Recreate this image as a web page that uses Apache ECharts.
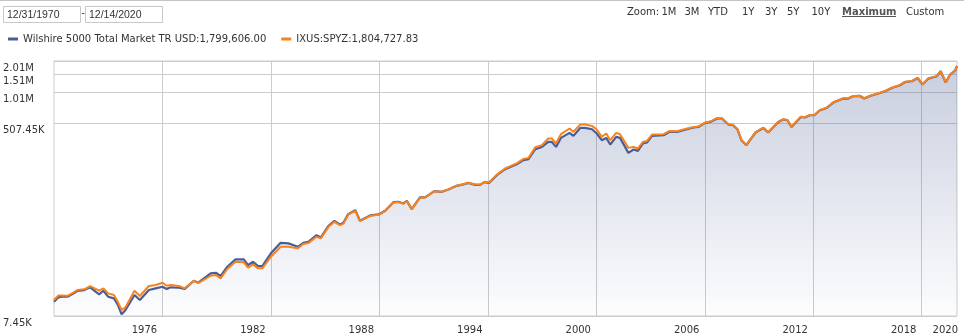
<!DOCTYPE html>
<html><head><meta charset="utf-8">
<script src="https://cdn.jsdelivr.net/npm/echarts@6/dist/echarts.min.js"></script>
<style>html,body{margin:0;padding:0;background:#fff;}#c{width:964px;height:333px;}</style>
</head><body><div id="c"></div>
<script>
const dates = ['1970-12-31','1971-03-31','1971-05-31','1971-09-30','1972-02-01','1972-04-15','1972-09-01','1972-12-31','1973-06-30','1973-09-25',
'1973-12-28','1974-04-25','1974-07-15','1974-09-27','1974-12-15','1975-06-15','1975-10-01','1976-03-31','1976-08-15','1976-12-31',
'1977-03-25','1977-06-15','1977-11-30','1978-03-25','1978-09-25','1978-12-25','1979-09-01','1979-12-15','1980-03-20','1980-08-01',
'1981-01-15','1981-07-01','1981-09-25','1982-01-05','1982-04-15','1982-07-10','1982-12-31','1983-07-15','1983-12-20','1984-06-25',
'1984-10-15','1985-01-25','1985-07-10','1985-10-05','1986-03-05','1986-07-05','1986-10-25','1987-01-05','1987-04-10','1987-09-01',
'1987-12-05','1988-06-28','1988-12-15','1989-04-25','1989-10-10','1990-01-15','1990-05-01','1990-07-10','1990-10-15','1991-03-31',
'1991-07-10','1992-01-15','1992-06-15','1992-10-25','1993-04-10','1993-08-25','1993-12-01','1994-04-20','1994-07-25','1994-10-25',
'1995-01-25','1995-07-01','1995-12-15','1996-01-20','1996-08-05','1996-12-20','1997-04-01','1997-08-15','1997-12-28','1998-05-05',
'1998-07-15','1998-10-10','1999-01-15','1999-07-10','1999-09-25','2000-02-10','2000-05-20','2000-10-05','2001-01-10','2001-04-20',
'2001-07-20','2001-10-08','2002-02-05','2002-04-25','2002-10-10','2003-01-22','2003-04-20','2003-07-30','2003-10-20','2004-01-30',
'2004-09-20','2005-01-20','2005-06-18','2006-01-05','2006-05-20','2006-08-25','2007-01-08','2007-04-20','2007-09-12','2007-12-12',
'2008-04-22','2008-07-25','2008-10-20','2009-01-10','2009-04-20','2009-07-01','2009-10-22','2010-03-28','2010-07-05','2011-01-25',
'2011-05-08','2011-07-30','2011-10-18','2012-04-25','2012-07-15','2012-10-25','2013-01-22','2013-05-15','2013-09-28','2014-02-10',
'2014-08-30','2014-12-10','2015-03-18','2015-07-31','2015-10-28','2016-02-20','2016-08-08','2016-12-20','2017-05-05','2017-10-20',
'2018-01-30','2018-06-15','2018-10-12','2019-01-18','2019-05-15','2019-10-31','2020-01-20','2020-04-30','2020-07-28','2020-11-08',
'2020-12-14'];
const wilshire = [10190,11230,11380,11380,12250,12890,13170,13980,11990,12970,
11380,10980,9480,7730,8500,11810,10580,13170,13670,14160,
13460,13980,13850,13460,16150,15460,19000,19250,17900,21960,
25810,25810,22790,24490,22290,22290,29460,37150,36660,34030,
37150,37970,43980,41820,53590,60180,55610,57600,69700,76070,
60180,67730,69240,74950,90660,91290,88130,93290,77760,100500,
100500,115400,113700,119800,129600,133700,138400,132500,132500,140600,
138400,163800,186800,189800,208500,227700,232700,289800,304800,340000,
340000,304800,371200,414200,387900,462100,462100,449200,408700,352900,
371200,321300,379400,371200,267200,287900,279300,328300,335600,387900,
393900,423500,423500,449200,466200,472300,515700,527200,568100,568100,
497900,490300,449200,352900,316300,352900,417900,462100,417900,527200,
555700,547200,472300,588300,580500,610500,610500,681300,716400,806700,
880700,880700,926000,932000,880700,932000,982800,1033000,1111000,1178000,
1267000,1287000,1383000,1197000,1365000,1436000,1602000,1251000,1490000,1637000,
1799606.00];
const ixus = [10600,11670,11700,11600,12520,13170,13380,14380,12970,13670,
12250,11810,10120,8500,9020,12970,11550,14380,14700,15460,
14470,14700,14380,13670,16150,15350,18020,18300,17020,20880,
24490,24180,21480,23140,21200,21200,27330,34030,34030,32860,
36120,36910,42380,40920,52430,58870,54760,56590,68940,74950,
59780,67150,68640,74400,90000,90700,87600,92800,77400,100200,
100300,115300,113700,120000,130000,134200,139000,133300,133400,141600,
139600,165700,189600,193000,212500,234200,239500,302800,316300,366300,
366300,328300,402600,456200,423500,497900,497900,482900,446200,379400,
408700,352900,414200,402600,298200,304800,294300,340000,347500,399900,
402600,432800,429900,456200,471000,476000,519000,531000,575000,573000,
502000,494000,452500,355000,318000,355000,420000,464500,420500,530000,
559000,550000,475000,592000,584000,614000,614500,685500,721000,811000,
885500,886000,931500,937500,886000,937000,988000,1038500,1116500,1184000,
1273000,1293000,1389000,1202000,1370500,1441500,1607500,1255000,1494500,1641500,
1804727.83];
const seriesNames = ['Wilshire 5000 Total Market TR USD', 'IXUS:SPYZ'];
const yTickValues = [7450, 507450, 1007450, 1507450, 2007450];
const yTickLabels = ['7.45K', '507.45K', '1.01M', '1.51M', '2.01M'];
const xLabelYears = [1976, 1982, 1988, 1994, 2000, 2006, 2012, 2018, 2020];
const xGridYears = [1977, 1983, 1989, 1995, 2001, 2007, 2013, 2019];
const dateRange = ['12/31/1970', '12/14/2020'];
const zoomButtons = ['Zoom:', '1M', '3M', 'YTD', '1Y', '3Y', '5Y', '10Y', 'Maximum', 'Custom'];

function fmt(v) {
  const s = v.toFixed(2).split('.');
  return s[0].replace(/\B(?=(\d{3})+(?!\d))/g, ',') + '.' + s[1];
}
function ts(str) {
  const p = str.split('-').map(Number);
  return Date.UTC(p[0], p[1] - 1, p[2]);
}
const lastVals = {};
lastVals[seriesNames[0]] = wilshire[wilshire.length - 1];
lastVals[seriesNames[1]] = ixus[ixus.length - 1];

const FONT = 'DejaVu Sans';
const chart = echarts.init(document.getElementById('c'), null, {renderer: 'canvas'});

const zoomX = [627, 661.5, 684.5, 708, 742, 765, 787, 811.5, 842, 906];
const graphics = [
  {type: 'line', shape: {x1: 0, y1: 0.5, x2: 964, y2: 0.5}, style: {stroke: '#c4c4c4', lineWidth: 1}},
  {type: 'rect', shape: {x: 3.5, y: 6.5, width: 77, height: 16}, style: {fill: '#fff', stroke: '#c8c8c8', lineWidth: 1}},
  {type: 'text', x: 7, y: 15, style: {text: dateRange[0], font: '10.5px "Liberation Sans"', fill: '#333', verticalAlign: 'middle'}},
  {type: 'text', x: 81.5, y: 13.5, style: {text: '-', font: '10px "Liberation Sans"', fill: '#333', verticalAlign: 'middle'}},
  {type: 'rect', shape: {x: 85.5, y: 6.5, width: 77, height: 16}, style: {fill: '#fff', stroke: '#c8c8c8', lineWidth: 1}},
  {type: 'text', x: 89, y: 15, style: {text: dateRange[1], font: '10.5px "Liberation Sans"', fill: '#333', verticalAlign: 'middle'}}
];
zoomButtons.forEach(function (b, i) {
  const bold = b === 'Maximum';
  graphics.push({type: 'text', x: zoomX[i], y: 12, style: {text: b,
    font: (bold ? 'bold ' : '') + '10px "' + FONT + '"', fill: bold ? '#555' : '#333', verticalAlign: 'middle'}});
});
graphics.push({type: 'line', shape: {x1: 842, y1: 16.5, x2: 896, y2: 16.5}, style: {stroke: '#555', lineWidth: 1}});

const lastLabelYear = xLabelYears[xLabelYears.length - 1];
const option = {
  animation: false,
  backgroundColor: '#fff',
  graphic: graphics,
  legend: {
    left: 3, top: 29, itemWidth: 10, itemHeight: 3, itemGap: 15, icon: 'rect',
    selectedMode: false,
    data: seriesNames,
    formatter: function (name) { return name + ':' + fmt(lastVals[name]); },
    textStyle: {fontFamily: FONT, fontSize: 10, color: '#333'}
  },
  grid: {left: 54, right: 7, top: 61, bottom: 17, show: true, borderColor: '#cccccc', borderWidth: 1,
    backgroundColor: 'transparent', containLabel: false, outerBoundsMode: 'none'},
  xAxis: {
    type: 'value',
    min: ts(dates[0]),
    max: ts(dates[dates.length - 1]),
    axisLine: {show: false},
    axisTick: {show: false, customValues: xGridYears.map(function (y) { return Date.UTC(y, 0, 1); })},
    splitLine: {show: true, lineStyle: {color: '#cccccc', width: 1}},
    axisLabel: {
      customValues: xLabelYears.map(function (y) { return Date.UTC(y, 0, 1); }),
      formatter: function (v) {
        const y = new Date(v + 864e5).getUTCFullYear();
        return y === lastLabelYear ? '{edge|' + y + '}' : String(y);
      },
      rich: {edge: {padding: [0, 0, 0, 11], fontFamily: FONT, fontSize: 10, color: '#333'}},
      margin: 9, fontFamily: FONT, fontSize: 10, color: '#333', hideOverlap: false
    }
  },
  yAxis: {
    type: 'log', logBase: 10,
    min: yTickValues[0], max: yTickValues[yTickValues.length - 1],
    axisLine: {show: false},
    axisTick: {show: false, customValues: yTickValues},
    splitLine: {show: true, lineStyle: {color: '#cccccc', width: 1}},
    axisLabel: {
      customValues: yTickValues,
      formatter: function (v) {
        let best = 0;
        yTickValues.forEach(function (t, i) { if (Math.abs(t - v) < Math.abs(yTickValues[best] - v)) best = i; });
        return yTickLabels[best];
      },
      align: 'left', verticalAlign: 'top', margin: 51, padding: [2, 0, 0, 0],
      fontFamily: FONT, fontSize: 10, color: '#333'
    }
  },
  series: [
    {
      name: seriesNames[0], type: 'line', showSymbol: false, symbol: 'none',
      data: dates.map(function (d, i) { return [ts(d), wilshire[i]]; }),
      lineStyle: {color: '#4a5d94', width: 2.2},
      itemStyle: {color: '#4a5d94'},
      areaStyle: {origin: 'start', color: {type: 'linear', x: 0, y: 0, x2: 0, y2: 1,
        colorStops: [{offset: 0, color: 'rgba(70,90,145,0.42)'}, {offset: 1, color: 'rgba(70,90,145,0.02)'}]}},
      z: 2
    },
    {
      name: seriesNames[1], type: 'line', showSymbol: false, symbol: 'none',
      data: dates.map(function (d, i) { return [ts(d), ixus[i]]; }),
      lineStyle: {color: '#f7821e', width: 2},
      itemStyle: {color: '#f7821e'},
      z: 3
    }
  ]
};
chart.setOption(option);
</script>
</body></html>
